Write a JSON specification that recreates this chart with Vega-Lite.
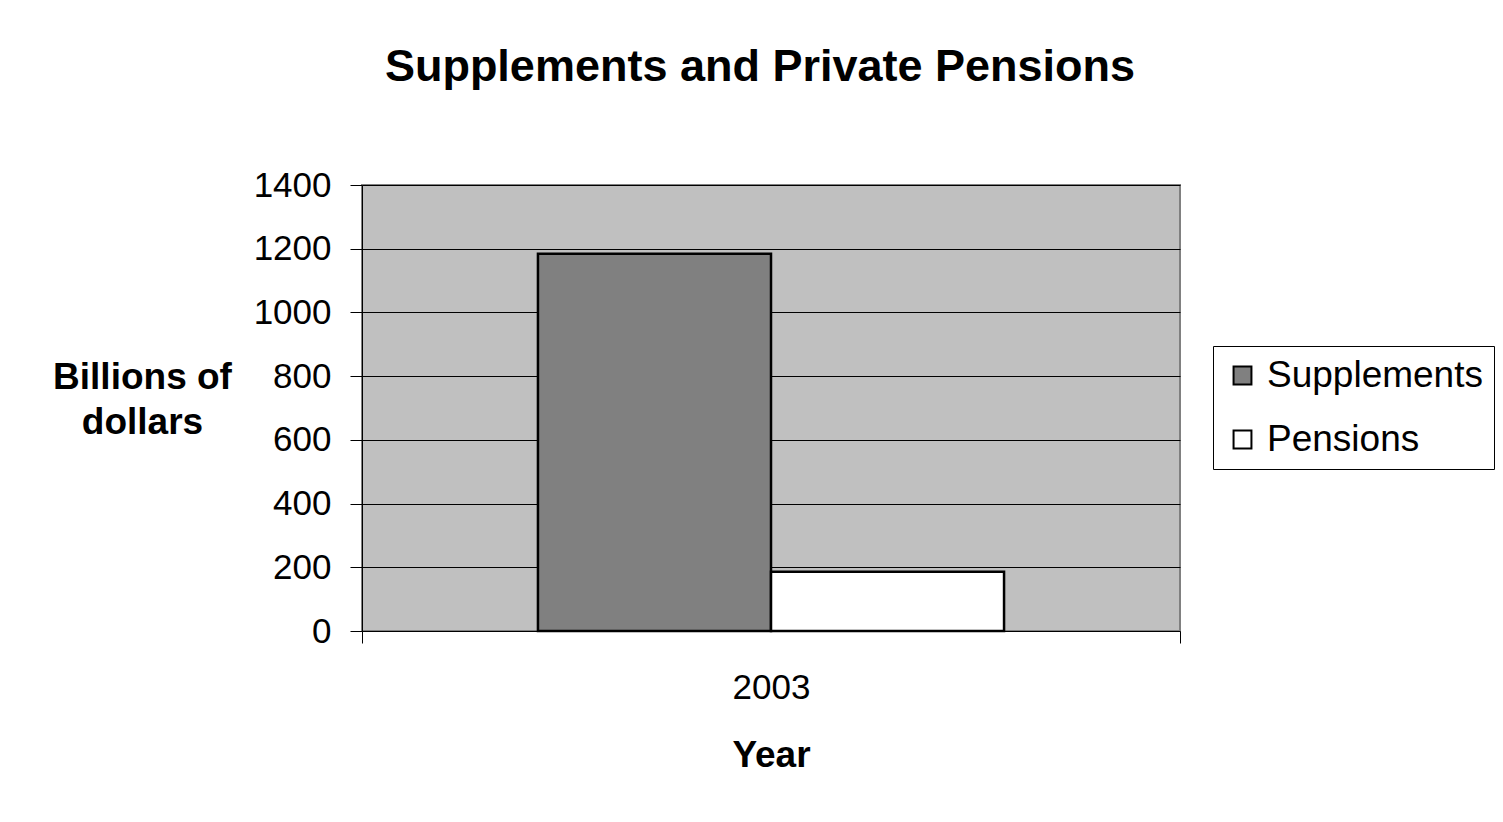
{
  "$schema": "https://vega.github.io/schema/vega-lite/v6.json",
  "autosize": {"type": "none"},
  "width": 818,
  "height": 446,
  "padding": {"left": 362, "top": 185, "right": 323, "bottom": 191},
  "background": "white",
  "title": {
    "text": "Supplements and Private Pensions",
    "font": "Liberation Sans",
    "fontSize": 45,
    "fontWeight": "bold",
    "color": "black",
    "anchor": "middle",
    "dx": -11,
    "offset": 78
  },
  "data": {
    "values": [
      {"year": "2003", "series": "Supplements", "value": 1184},
      {"year": "2003", "series": "Pensions", "value": 186}
    ]
  },
  "mark": {"type": "bar", "stroke": "black", "strokeWidth": 2.5},
  "encoding": {
    "x": {
      "field": "year",
      "type": "nominal",
      "scale": {"paddingInner": 0, "paddingOuter": 0},
      "axis": {
        "title": "Year",
        "labelAngle": 0,
        "tickBand": "extent",
        "ticks": true,
        "tickSize": 12,
        "tickColor": "black",
        "domain": false,
        "labelPadding": 27,
        "labelFontSize": 35,
        "titleFontSize": 37,
        "titlePadding": 32
      }
    },
    "xOffset": {
      "field": "series",
      "type": "nominal",
      "sort": ["Supplements", "Pensions"],
      "scale": {"paddingInner": 0, "paddingOuter": 0.755}
    },
    "y": {
      "field": "value",
      "type": "quantitative",
      "scale": {"domain": [0, 1400], "nice": false},
      "axis": {
        "values": [0, 200, 400, 600, 800, 1000, 1200, 1400],
        "format": "d",
        "title": ["Billions of", "dollars"],
        "titleAngle": 0,
        "titleAlign": "center",
        "titleBaseline": "alphabetic",
        "titleX": -220,
        "titleY": 203,
        "titleLineHeight": 45,
        "titleFontSize": 37,
        "labelFontSize": 35,
        "labelPadding": 19,
        "tickSize": 12,
        "tickColor": "black",
        "domainColor": "black",
        "grid": true,
        "gridColor": "black",
        "gridWidth": 1
      }
    },
    "color": {
      "field": "series",
      "type": "nominal",
      "scale": {"domain": ["Supplements", "Pensions"], "range": ["#808080", "#FFFFFF"]},
      "legend": {
        "title": null,
        "orient": "none",
        "legendX": 851,
        "legendY": 161,
        "symbolType": "square",
        "symbolSize": 320,
        "symbolStrokeColor": "black",
        "symbolStrokeWidth": 2,
        "symbolOpacity": 1,
        "labelFontSize": 37,
        "labelOffset": 6,
        "labelColor": "black",
        "rowPadding": 26,
        "padding": 11,
        "strokeColor": "black",
        "fillColor": "white",
        "labelLimit": 400
      }
    }
  },
  "config": {
    "font": "Liberation Sans",
    "view": {"fill": "#C0C0C0", "stroke": "#808080", "strokeWidth": 2},
    "axis": {
      "labelColor": "black",
      "titleColor": "black",
      "titleFontWeight": "bold",
      "labelFont": "Liberation Sans",
      "titleFont": "Liberation Sans",
      "domainColor": "black"
    }
  }
}
